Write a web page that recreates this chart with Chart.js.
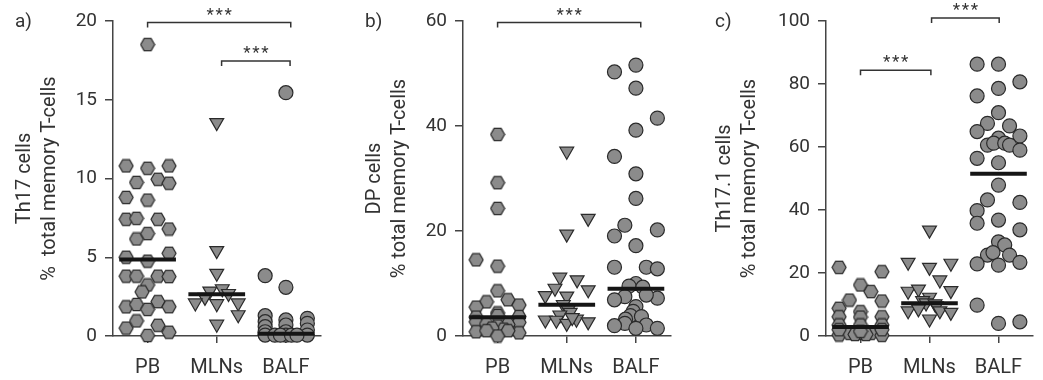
<!DOCTYPE html>
<html>
<head>
<meta charset="utf-8">
<script src="https://cdn.jsdelivr.net/npm/chart.js@4.4.1/dist/chart.umd.min.js"></script>
<style>
  body { margin: 0; background: #fff; width: 1043px; height: 380px; position: relative; overflow: hidden; }
  .panel { position: absolute; top: 0; height: 380px; }
</style>
</head>
<body>
<div class="panel" style="left:0px"><canvas id="chartA" width="347" height="380"></canvas></div>
<div class="panel" style="left:350px"><canvas id="chartB" width="347" height="380"></canvas></div>
<div class="panel" style="left:700px"><canvas id="chartC" width="343" height="380"></canvas></div>
<script>
const groups = ["PB", "MLNs", "BALF"];

// a) Th17 cells
const th17Ticks = [0, 5, 10, 15, 20];
const th17PB = [18.5, 10.8, 10.65, 10.8, 9.75, 9.95, 9.7, 8.8, 8.63, 7.41, 7.47, 7.41, 6.79, 6.16, 6.5, 5.0, 4.75, 5.25, 3.8, 3.8, 3.8, 3.77, 3.24, 2.8, 1.85, 2.0, 1.69, 2.18, 1.86, 0.5, 0.96, 0.68, 0.24, 0.03];
const th17PBJitter = [0, -0.31, 0, 0.31, -0.16, 0.15, 0.31, -0.31, 0, -0.31, -0.16, 0.15, 0.31, -0.16, 0, -0.31, 0, 0.31, -0.31, -0.16, 0.15, 0.31, 0, -0.08, -0.31, -0.16, 0, 0.15, 0.31, -0.31, -0.16, 0.15, 0.31, 0];
const th17MLN = [13.55, 5.42, 3.98, 2.85, 3.0, 2.7, 2.45, 2.1, 2.05, 2.1, 1.35, 0.75];
const th17MLNJitter = [0, 0, 0, -0.1, 0.08, 0.17, -0.17, -0.31, 0, 0.31, 0.31, 0];
const th17BALF = [15.45, 3.83, 3.09, 1.29, 0.91, 0.59, 0.27, 0.06, 1.02, 0.7, 0.27, 0.06, 1.12, 0.8, 0.38, 0.06, 0.05, 0.05, 0.05, 0.05];
const th17BALFJitter = [0, -0.3, 0, -0.3, -0.3, -0.3, -0.3, -0.3, 0, 0, 0, 0, 0.31, 0.31, 0.31, 0.31, -0.16, -0.08, 0.08, 0.16];
const th17Medians = [4.85, 2.65, 0.15];

// b) DP cells
const dpTicks = [0, 20, 40, 60];
const dpPB = [38.4, 29.2, 24.3, 14.5, 13.3, 8.6, 6.9, 6.5, 5.9, 5.5, 4.4, 3.9, 3.6, 3.7, 2.7, 2.6, 2.3, 2.2, 1.9, 1.3, 1.5, 0.8, 0.6, 1.0, 1.0, 0.0];
const dpPBJitter = [0, 0, 0, -0.31, 0, 0, 0.15, -0.16, 0.31, -0.31, 0, 0, -0.31, 0.31, -0.31, 0.31, -0.16, 0.15, 0, 0.09, -0.08, -0.31, 0.31, -0.16, 0.15, 0];
const dpMLN = [35.2, 22.4, 19.4, 11.2, 10.7, 9.1, 8.8, 7.7, 7.6, 6.0, 5.0, 4.5, 4.0, 3.05, 3.0, 2.4, 3.2, 2.7, 3.5];
const dpMLNJitter = [0, 0.31, 0, -0.1, 0.15, -0.17, 0.31, -0.31, 0, -0.05, 0.02, 0.05, -0.1, -0.31, -0.15, 0, 0.14, 0.31, 0.08];
const dpBALF = [51.6, 50.3, 47.2, 41.5, 39.2, 34.2, 30.9, 26.2, 21.1, 20.2, 19.05, 17.2, 13.1, 13.1, 12.8, 10.0, 9.5, 9.3, 7.5, 6.9, 7.2, 7.8, 5.6, 4.7, 3.9, 3.7, 3.2, 2.4, 2.1, 1.97, 1.46, 1.46];
const dpBALFJitter = [0, -0.31, 0, 0.31, 0, -0.31, 0, 0, -0.16, 0.31, -0.31, 0, -0.31, 0.15, 0.31, 0, -0.1, 0.1, -0.16, -0.31, 0.31, 0.15, 0, -0.04, -0.08, 0.08, -0.15, -0.16, 0.15, -0.31, 0, 0.31];
const dpMedians = [3.56, 5.97, 9.0];

// c) Th17.1 cells
const th171Ticks = [0, 20, 40, 60, 80, 100];
const th171PB = [21.8, 20.4, 16.2, 14.1, 11.4, 11.1, 8.8, 7.7, 6.1, 6.0, 6.1, 3.5, 3.5, 3.5, 0.3, 0.85, 0.85, 0.85, 0.2, 0.5, 0.5, 2.0, 2.0, 1.5];
const th171PBJitter = [-0.31, 0.31, 0, 0.15, -0.16, 0.31, -0.31, 0, -0.31, 0, 0.31, -0.31, 0, 0.31, -0.31, -0.16, 0, 0.15, 0.31, -0.08, 0.08, -0.31, 0.31, 0];
const th171MLN = [33.6, 23.4, 21.8, 23.1, 17.8, 14.2, 14.9, 14.4, 12.3, 11.2, 10.5, 10.2, 9.6, 8.0, 8.6, 5.4, 8.0, 7.5];
const th171MLNJitter = [0, -0.31, 0, 0.31, 0.15, -0.31, -0.16, 0.31, 0, -0.1, -0.05, 0.08, 0.1, -0.31, -0.16, 0, 0.15, 0.31];
const th171BALF = [86.3, 86.3, 80.7, 78.6, 76.2, 70.9, 67.5, 66.7, 64.9, 63.5, 62.8, 60.6, 61.2, 61.2, 60.6, 59.0, 56.4, 55.0, 47.9, 43.2, 42.4, 39.8, 35.8, 36.8, 33.7, 29.9, 28.9, 25.7, 25.7, 26.5, 22.9, 22.5, 23.4, 9.8, 4.0, 4.5];
const th171BALFJitter = [-0.31, 0, 0.31, 0, -0.31, 0, -0.16, 0.16, -0.31, 0.31, 0, -0.16, -0.07, 0.09, 0.16, 0.31, -0.31, 0, 0, -0.16, 0.31, -0.31, -0.31, 0, 0.31, 0, 0.09, -0.16, 0.16, -0.08, -0.31, 0, 0.31, -0.31, 0, 0.31];
const th171Medians = [2.86, 10.4, 51.5];

// significance brackets (category positions, y in data units)
const bracketsA = [{ from: 1, to: 3.07, y: 19.9 }, { from: 2.07, to: 3.06, y: 17.46 }];
const bracketsB = [{ from: 1, to: 3.07, y: 59.7 }];
const bracketsC = [{ from: 1, to: 2.02, y: 84.4 }, { from: 2.03, to: 3.01, y: 100.95 }];

const FILL = "#8b8b8b";
const EDGE = "#2a2a2a";
const INK = "#333";
const FONT = "Roboto, 'DejaVu Sans', sans-serif";

function makeHexagon(r) {
  const c = document.createElement("canvas");
  c.width = 2 * r + 2;
  c.height = Math.ceil(Math.sqrt(3) * r) + 2;
  const ctx = c.getContext("2d");
  const cx = c.width / 2, cy = c.height / 2;
  ctx.beginPath();
  for (let i = 0; i < 6; i++) {
    const a = (Math.PI / 3) * i;
    const px = cx + r * Math.cos(a), py = cy + r * Math.sin(a);
    if (i === 0) ctx.moveTo(px, py); else ctx.lineTo(px, py);
  }
  ctx.closePath();
  ctx.fillStyle = FILL;
  ctx.fill();
  ctx.lineWidth = 1.2;
  ctx.strokeStyle = EDGE;
  ctx.stroke();
  return c;
}
const hexagon = makeHexagon(7);

function pointsFor(index, values, jitter) {
  return values.map((v, i) => ({ x: index + 1 + jitter[i], y: v }));
}

function groupDataset(index, values, jitter, shape) {
  const ds = {
    type: "scatter",
    data: pointsFor(index, values, jitter),
    backgroundColor: FILL,
    borderColor: EDGE,
    borderWidth: 1.2,
    clip: false,
    order: 1,
  };
  if (shape === "hex") {
    ds.pointStyle = hexagon;
    ds.pointRadius = 7;
  } else if (shape === "tri") {
    ds.pointStyle = "triangle";
    ds.rotation = 180;
    ds.pointRadius = 8;
  } else {
    ds.pointStyle = "circle";
    ds.pointRadius = 7;
  }
  return ds;
}

function medianDataset(index, m) {
  return {
    type: "line",
    data: [{ x: index + 1 - 0.41, y: m }, { x: index + 1 + 0.41, y: m }],
    borderColor: "#151515",
    borderWidth: 4,
    pointRadius: 0,
    clip: false,
    order: 0,
  };
}

const annotate = {
  id: "annotate",
  afterDraw(chart, args, opts) {
    const ctx = chart.ctx;
    const xs = chart.scales.x, ys = chart.scales.y;
    ctx.save();
    ctx.strokeStyle = INK;
    ctx.lineWidth = 1.5;
    ctx.fillStyle = INK;
    opts.brackets.forEach((b) => {
      const x1 = xs.getPixelForValue(b.from);
      const x2 = xs.getPixelForValue(b.to);
      const y = ys.getPixelForValue(b.y);
      ctx.beginPath();
      ctx.moveTo(x1, y + 5);
      ctx.lineTo(x1, y);
      ctx.lineTo(x2, y);
      ctx.lineTo(x2, y + 5);
      ctx.stroke();
      ctx.font = "17px " + FONT;
      ctx.textAlign = "center";
      ctx.textBaseline = "middle";
      const mid = (x1 + x2) / 2;
      [-9, 0, 9].forEach((dx) => ctx.fillText("*", mid + dx, y - 7));
    });
    ctx.font = "19px " + FONT;
    ctx.textAlign = "left";
    ctx.textBaseline = "middle";
    ctx.fillText(opts.letter, 15, 22);
    ctx.restore();
  },
};

function makePanel(id, cfg) {
  const datasets = [];
  cfg.medians.forEach((m, i) => datasets.push(medianDataset(i, m)));
  datasets.push(groupDataset(0, cfg.pb, cfg.pbJitter, "hex"));
  datasets.push(groupDataset(1, cfg.mln, cfg.mlnJitter, "tri"));
  datasets.push(groupDataset(2, cfg.balf, cfg.balfJitter, "circle"));

  const axisLine = { color: "#444", width: 1.5 };
  return new Chart(document.getElementById(id), {
    type: "scatter",
    data: { datasets: datasets },
    plugins: [annotate],
    options: {
      responsive: false,
      animation: false,
      events: [],
      layout: { padding: { top: 21, right: cfg.rightPad, left: 0, bottom: 0 } },
      plugins: {
        legend: { display: false },
        tooltip: { enabled: false },
        annotate: { brackets: cfg.brackets, letter: cfg.letter },
      },
      scales: {
        x: {
          type: "linear",
          min: 0.5,
          max: 3.5,
          afterBuildTicks: (axis) => {
            axis.ticks = groups.map((g, i) => ({ value: i + 1 }));
          },
          afterFit: (axis) => { axis.height = 44; },
          ticks: {
            color: INK,
            font: { family: FONT, size: 20 },
            padding: 13,
            callback: (v) => groups[v - 1],
          },
          grid: { drawOnChartArea: false, tickLength: 7, color: "#444", lineWidth: 1.5 },
          border: axisLine,
        },
        y: {
          type: "linear",
          min: 0,
          max: cfg.ticks[cfg.ticks.length - 1],
          afterBuildTicks: (axis) => {
            axis.ticks = cfg.ticks.map((v) => ({ value: v }));
          },
          afterFit: (axis) => { axis.width = cfg.yWidth; },
          ticks: {
            color: INK,
            font: { family: FONT, size: 19 },
            padding: 8,
          },
          grid: { drawOnChartArea: false, tickLength: 8, color: "#444", lineWidth: 1.5 },
          border: axisLine,
          title: {
            display: true,
            text: cfg.title,
            color: INK,
            font: { family: FONT, size: 20, lineHeight: 25 / 20 },
            padding: { top: 12.5, bottom: 0 },
          },
        },
      },
    },
  });
}

makePanel("chartA", {
  letter: "a)", title: ["Th17 cells", "%  total memory T-cells"], ticks: th17Ticks,
  pb: th17PB, pbJitter: th17PBJitter, mln: th17MLN, mlnJitter: th17MLNJitter,
  balf: th17BALF, balfJitter: th17BALFJitter, medians: th17Medians,
  brackets: bracketsA, yWidth: 113, rightPad: 26.5,
});
makePanel("chartB", {
  letter: "b)", title: ["DP cells", "% total memory T-cells"], ticks: dpTicks,
  pb: dpPB, pbJitter: dpPBJitter, mln: dpMLN, mlnJitter: dpMLNJitter,
  balf: dpBALF, balfJitter: dpBALFJitter, medians: dpMedians,
  brackets: bracketsB, yWidth: 113, rightPad: 26.5,
});
makePanel("chartC", {
  letter: "c)", title: ["Th17.1 cells", "% total memory T-cells"], ticks: th171Ticks,
  pb: th171PB, pbJitter: th171PBJitter, mln: th171MLN, mlnJitter: th171MLNJitter,
  balf: th171BALF, balfJitter: th171BALFJitter, medians: th171Medians,
  brackets: bracketsC, yWidth: 126, rightPad: 10,
});
</script>
</body>
</html>
